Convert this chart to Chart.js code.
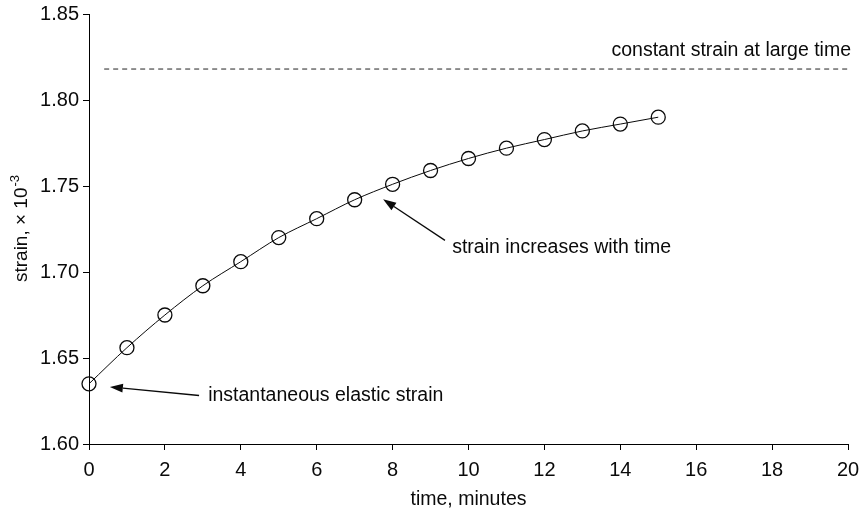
<!DOCTYPE html>
<html><head><meta charset="utf-8">
<script src="https://cdn.jsdelivr.net/npm/chart.js@4/dist/chart.umd.min.js"></script>
<style>html,body{margin:0;padding:0;background:#fff;}#wrap{width:863px;height:518px;position:relative;}</style>
</head><body><div id="wrap"><canvas id="c"></canvas></div>
<script>
// ---- data ----
const timeMinutes = [0,1,2,3,4,5,6,7,8,9,10,11,12,13,14,15];
const strainValues = [1.635,1.656,1.675,1.692,1.706,1.720,1.731,1.742,1.751,1.759,1.766,1.772,1.777,1.782,1.786,1.790];
const asymptoteValue = 1.818;
const asymptoteFrom = 0.4;
const asymptoteTo = 20;
const xAxisTitle = 'time, minutes';
const yAxisTitleMain = 'strain, \u00d7 10';
const yAxisTitleExp = '-3';
const noteAsymptote = 'constant strain at large time';
const noteIncrease = 'strain increases with time';
const noteElastic = 'instantaneous elastic strain';

// annotation anchors in data units (x = minutes, y = strain)
const noteAsymptotePos = {x:20.08, y:1.8285};
const noteIncreasePos = {x:9.57, y:1.7144};
const arrowIncrease = {from:{x:9.38,y:1.7184}, to:{x:7.75,y:1.7423}};
const noteElasticPos = {x:3.14, y:1.6282};
const arrowElastic = {from:{x:2.9,y:1.6282}, to:{x:0.55,y:1.6332}};

const FONT = "'Liberation Sans', Arial, sans-serif";
const INK = '#0a0a0a';

const curveData = timeMinutes.map((t,i)=>({x:t,y:strainValues[i]}));
const asymptoteData = [{x:asymptoteFrom,y:asymptoteValue},{x:asymptoteTo,y:asymptoteValue}];

function drawArrow(ctx, x1, y1, x2, y2){
  const ang = Math.atan2(y2-y1, x2-x1);
  const hl = 13, hw = 4.5;
  const bx = x2 - hl*Math.cos(ang), by = y2 - hl*Math.sin(ang);
  ctx.beginPath();
  ctx.moveTo(x1,y1); ctx.lineTo(bx,by);
  ctx.lineWidth = 1.3; ctx.strokeStyle = INK; ctx.stroke();
  ctx.beginPath();
  ctx.moveTo(x2,y2);
  ctx.lineTo(bx + hw*Math.sin(ang), by - hw*Math.cos(ang));
  ctx.lineTo(bx - hw*Math.sin(ang), by + hw*Math.cos(ang));
  ctx.closePath(); ctx.fillStyle = INK; ctx.fill();
}

const notesPlugin = {
  id:'notes',
  afterDraw(chart){
    const ctx = chart.ctx, xs = chart.scales.x, ys = chart.scales.y;
    const px = v => xs.getPixelForValue(v), py = v => ys.getPixelForValue(v);
    ctx.save();
    ctx.fillStyle = INK;
    ctx.font = '19.5px ' + FONT;
    ctx.textBaseline = 'middle';
    ctx.textAlign = 'right';
    ctx.fillText(noteAsymptote, px(noteAsymptotePos.x), py(noteAsymptotePos.y));
    ctx.textAlign = 'left';
    ctx.fillText(noteIncrease, px(noteIncreasePos.x), py(noteIncreasePos.y));
    ctx.fillText(noteElastic, px(noteElasticPos.x), py(noteElasticPos.y));
    drawArrow(ctx, px(arrowIncrease.from.x), py(arrowIncrease.from.y), px(arrowIncrease.to.x), py(arrowIncrease.to.y));
    drawArrow(ctx, px(arrowElastic.from.x), py(arrowElastic.from.y), px(arrowElastic.to.x), py(arrowElastic.to.y));
    // x axis title
    ctx.textAlign = 'center';
    ctx.textBaseline = 'middle';
    ctx.font = '19.5px ' + FONT;
    ctx.fillText(xAxisTitle, (xs.left + xs.right)/2, 500);
    // y axis title with superscript
    ctx.save();
    ctx.translate(20, (ys.top + ys.bottom)/2);
    ctx.rotate(-Math.PI/2);
    ctx.textAlign = 'left';
    ctx.textBaseline = 'alphabetic';
    ctx.font = '19px ' + FONT;
    const w1 = ctx.measureText(yAxisTitleMain).width;
    ctx.font = '13px ' + FONT;
    const w2 = ctx.measureText(yAxisTitleExp).width;
    const start = -(w1 + w2)/2;
    ctx.font = '19px ' + FONT;
    ctx.fillText(yAxisTitleMain, start, 7);
    ctx.font = '13px ' + FONT;
    ctx.fillText(yAxisTitleExp, start + w1 + 1, -1);
    ctx.restore();
    ctx.restore();
  }
};

new Chart(document.getElementById('c'), {
  type:'scatter',
  data:{
    datasets:[
      {
        label:'strain',
        data:curveData,
        showLine:true,
        borderColor:INK,
        borderWidth:1,
        cubicInterpolationMode:'monotone',
        pointStyle:'circle',
        pointRadius:7,
        pointHoverRadius:7,
        pointBorderWidth:1.3,
        pointBorderColor:INK,
        pointBackgroundColor:'rgba(0,0,0,0)',
        clip:false
      },
      {
        label:'asymptote',
        data:asymptoteData,
        showLine:true,
        borderColor:'#222',
        borderWidth:1,
        borderDash:[5,4],
        pointRadius:0,
        clip:false
      }
    ]
  },
  options:{
    responsive:true,
    maintainAspectRatio:false,
    animation:false,
    layout:{padding:{top:14,right:15,left:0,bottom:0}},
    plugins:{legend:{display:false},tooltip:{enabled:false}},
    scales:{
      x:{
        type:'linear', min:0, max:20,
        afterFit(s){ s.height = 74; s.paddingRight = 0; s.paddingLeft = 0; },
        ticks:{stepSize:2, color:INK, font:{family:FONT,size:20}, padding:8, maxRotation:0},
        grid:{display:true, drawOnChartArea:false, drawTicks:true, tickLength:6, color:'#000'},
        border:{display:true, color:'#000', width:1}
      },
      y:{
        type:'linear', min:1.6, max:1.85,
        afterFit(s){ s.width = 89; s.paddingTop = 0; s.paddingBottom = 0; },
        ticks:{stepSize:0.05, color:INK, font:{family:FONT,size:20}, padding:4, callback:v=>Number(v).toFixed(2)},
        grid:{display:true, drawOnChartArea:false, drawTicks:true, tickLength:6, color:'#000'},
        border:{display:true, color:'#000', width:1}
      }
    }
  },
  plugins:[notesPlugin]
});
</script>
</body></html>
